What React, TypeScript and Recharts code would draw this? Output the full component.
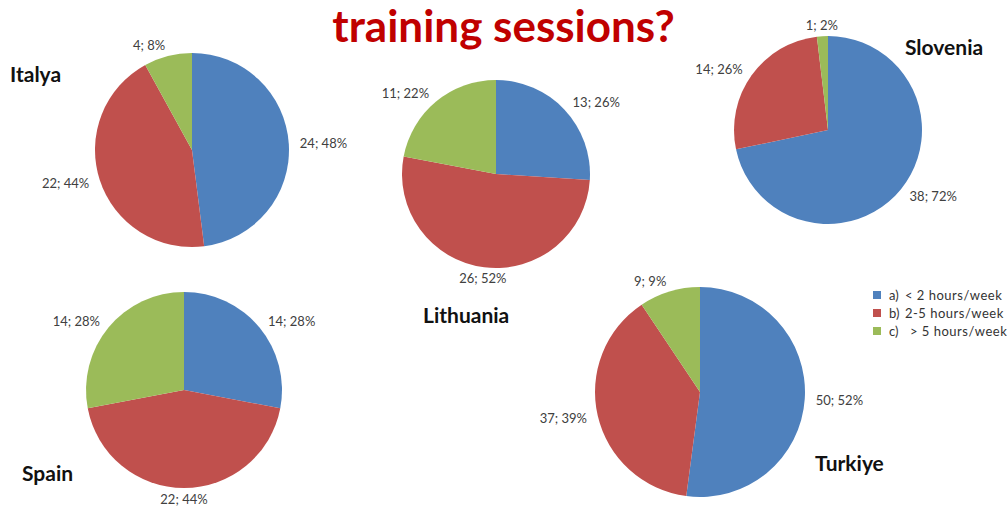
import { PieChart, Pie, Cell } from 'recharts';

const W = 1007;
const H = 511;

const categories = ['a)   < 2 hours/week', 'b)   2-5 hours/week', 'c)    > 5 hours/week'];
const legendKeys = ['a)', 'b)', 'c)'];
const legendTexts = ['< 2 hours/week', '2-5 hours/week', '> 5 hours/week'];
const colors = ['#4F81BD', '#C0504D', '#9BBB59'];

const italya = [24, 22, 4];
const lithuania = [13, 26, 11];
const slovenia = [38, 14, 1];
const spain = [14, 22, 14];
const turkiye = [50, 37, 9];

const countries = ['Italya', 'Lithuania', 'Slovenia', 'Spain', 'Turkiye'];

// pie placement on the page
const pies = [
  { name: 'Italya', values: italya, cx: 192, cy: 150, r: 97, label: { x: 10, y: 61 } },
  { name: 'Lithuania', values: lithuania, cx: 496, cy: 174, r: 94, label: { x: 423, y: 302 } },
  { name: 'Slovenia', values: slovenia, cx: 828, cy: 130, r: 94, label: { x: 905, y: 34 } },
  { name: 'Spain', values: spain, cx: 184, cy: 390, r: 98, label: { x: 22, y: 460 } },
  { name: 'Turkiye', values: turkiye, cx: 700, cy: 392, r: 105, label: { x: 815, y: 450 } },
];

const RAD = Math.PI / 180;

function makeLabel(values: number[]) {
  const total = values.reduce((a, b) => a + b, 0);
  return (props: any) => {
    const { cx, cy, midAngle, outerRadius, value } = props;
    const rr = outerRadius + 11;
    const c = Math.cos(-midAngle * RAD);
    const s = Math.sin(-midAngle * RAD);
    const x = cx + rr * c;
    const y = cy + rr * s;
    const anchor = c > 0.2 ? 'start' : c < -0.2 ? 'end' : 'middle';
    const pct = Math.round((value / total) * 100);
    return (
      <text
        x={x}
        y={y}
        textAnchor={anchor}
        dominantBaseline='central'
        fill='#404040'
        fontSize={13}
        fontFamily='Lato, sans-serif'
      >
        {value}; {pct}%
      </text>
    );
  };
}

export default function App() {
  return (
    <div
      style={{
        position: 'absolute',
        left: 0,
        top: 0,
        width: W,
        height: H,
        background: '#fff',
        fontFamily: 'Lato, sans-serif',
        overflow: 'hidden',
      }}
    >
      <PieChart width={W} height={H} margin={{ top: 0, right: 0, bottom: 0, left: 0 }}>
        {pies.map((p) => {
          const data = p.values.map((v, i) => ({ name: categories[i], value: v }));
          return (
            <Pie
              key={p.name}
              data={data}
              dataKey='value'
              cx={p.cx}
              cy={p.cy}
              outerRadius={p.r}
              startAngle={90}
              endAngle={-270}
              stroke='none'
              labelLine={false}
              label={makeLabel(p.values)}
              isAnimationActive={false}
            >
              {data.map((d, i) => (
                <Cell key={d.name} fill={colors[i]} />
              ))}
            </Pie>
          );
        })}
      </PieChart>

      <div
        style={{
          position: 'absolute',
          left: 0,
          width: W,
          top: 2,
          textAlign: 'center',
          fontSize: 44,
          fontWeight: 700,
          color: '#C00000',
          lineHeight: '46px',
        }}
      >
        training sessions?
      </div>

      {pies.map((p, i) => (
        <div
          key={p.name}
          style={{
            position: 'absolute',
            left: p.label.x,
            top: p.label.y,
            fontSize: 21,
            fontWeight: 700,
            color: '#111',
            lineHeight: '26px',
          }}
        >
          {countries[i]}
        </div>
      ))}

      <div
        style={{
          position: 'absolute',
          left: 873,
          top: 286,
          width: 134,
          fontSize: 13,
          color: '#333',
          whiteSpace: 'nowrap',
        }}
      >
        {legendKeys.map((k, i) => (
          <div key={k} style={{ display: 'flex', alignItems: 'center', height: 18 }}>
            <span style={{ flex: 'none', width: 8, height: 8, background: colors[i], marginRight: 8 }} />
            <span style={{ flex: 'none', width: 16 }}>{k}</span>
            <span style={{ flex: 'none', marginLeft: i === 2 ? 5 : 0, letterSpacing: 0.5 }}>
              {legendTexts[i]}
            </span>
          </div>
        ))}
      </div>
    </div>
  );
}
